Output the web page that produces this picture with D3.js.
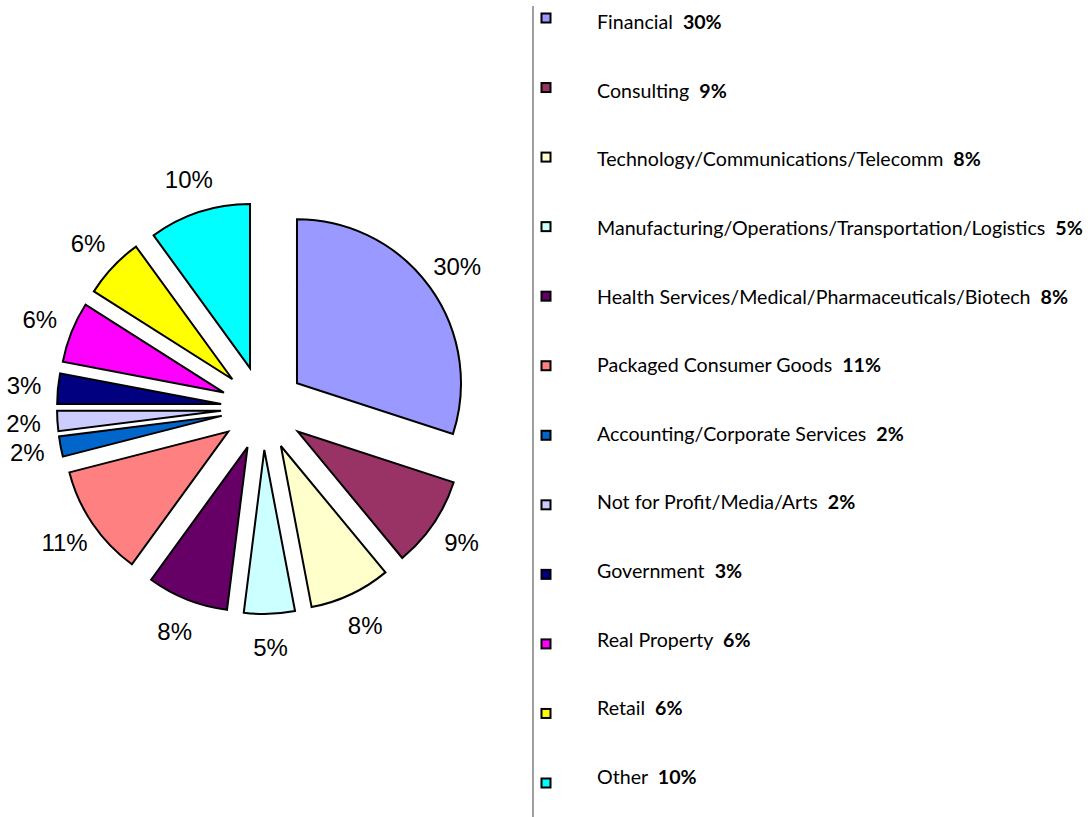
<!DOCTYPE html>
<html><head><meta charset="utf-8">
<script src="https://cdn.jsdelivr.net/npm/d3@7"></script>
<style>body{margin:0;background:#fff}svg{display:block}</style>
</head><body>
<svg id="c" width="1090" height="817"></svg>
<script>
const categories = ["Financial","Consulting","Technology/Communications/Telecomm","Manufacturing/Operations/Transportation/Logistics","Health Services/Medical/Pharmaceuticals/Biotech","Packaged Consumer Goods","Accounting/Corporate Services","Not for Profit/Media/Arts","Government","Real Property","Retail","Other"];
const values = [30,9,8,5,8,11,2,2,3,6,6,10];
const colors = ["#9999FF","#993366","#FFFFCC","#CCFFFF","#660066","#FF8080","#0066CC","#CCCCFF","#000080","#FF00FF","#FFFF00","#00FFFF"];

const svg = d3.select("#c");
const cx = 263, cy = 408, R = 164, explode = 42, labelR = 240;

const pie = d3.pie().sort(null).value(d => d)(values);
const arc = d3.arc().innerRadius(0).outerRadius(R);
const total = d3.sum(values);
const pct = v => Math.round(v / total * 100) + "%";

const g = svg.append("g").attr("transform", `translate(${cx},${cy})`);
pie.forEach((p, i) => {
  const a = (p.startAngle + p.endAngle) / 2;
  const dx = Math.sin(a) * explode, dy = -Math.cos(a) * explode;
  g.append("path").attr("d", arc(p)).attr("transform", `translate(${dx},${dy})`)
    .attr("fill", colors[i]).attr("stroke", "#000").attr("stroke-width", 2).attr("stroke-linejoin", "miter");
  g.append("text").attr("x", Math.sin(a) * labelR).attr("y", -Math.cos(a) * labelR)
    .attr("text-anchor", "middle").attr("dominant-baseline", "central")
    .attr("font-family", "Liberation Sans, Arial, sans-serif").attr("font-size", 24).attr("fill", "#000")
    .text(pct(values[i]));
});

// legend
svg.append("line").attr("x1", 533).attr("x2", 533).attr("y1", 6).attr("y2", 817)
  .attr("stroke", "#808080").attr("stroke-width", 1.5);

const ty = d3.scalePoint().domain(categories).range([29, 784]);
const my = d3.scalePoint().domain(categories).range([18, 783]);
const lg = svg.append("g");
let fs = 20;
const texts = [];
categories.forEach((c, i) => {
  lg.append("rect").attr("x", 541.5).attr("y", my(c) - 4.5).attr("width", 9).attr("height", 9)
    .attr("fill", colors[i]).attr("stroke", "#000").attr("stroke-width", 2);
  const t = lg.append("text").attr("x", 597).attr("y", ty(c))
    .attr("font-family", "Lato, 'Open Sans', sans-serif").attr("font-size", fs).attr("fill", "#000");
  t.append("tspan").text(c + "\u00a0\u00a0");
  t.append("tspan").attr("font-weight", "bold").text(pct(values[i]));
  texts.push(t);
});
// fit longest legend line to its width in the reference
const longest = texts[3].node().getComputedTextLength();
const nfs = fs * 486 / longest;
texts.forEach(t => t.attr("font-size", nfs));
</script>
</body></html>
